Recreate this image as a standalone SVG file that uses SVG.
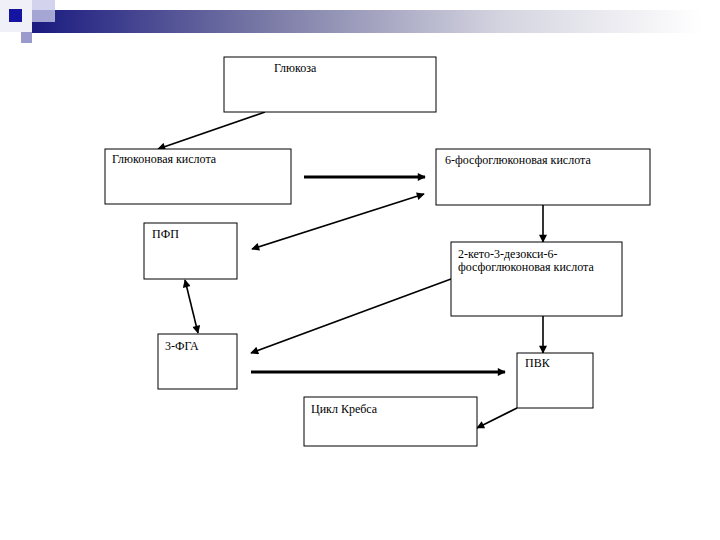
<svg xmlns="http://www.w3.org/2000/svg" width="720" height="540" viewBox="0 0 720 540">
<style>
.box{fill:#fff;stroke:#000;stroke-width:1}
.t{font-family:"Liberation Serif","Times New Roman",serif;font-size:12px;fill:#000}
.c{stroke:#000;stroke-width:1.6;fill:none}
.thick{stroke-width:2.8}
</style>
<defs>
<linearGradient id="bar" x1="0" y1="0" x2="1" y2="0">
<stop offset="0" stop-color="#1a1a80"/>
<stop offset="0.35" stop-color="#7a7aa6"/>
<stop offset="0.7" stop-color="#d4d4e0"/>
<stop offset="1" stop-color="#ffffff"/>
</linearGradient>
<marker id="ah" viewBox="0 0 10 10" refX="9" refY="5" markerWidth="9" markerHeight="8" markerUnits="userSpaceOnUse" orient="auto-start-reverse">
<path d="M0,0 L10,5 L0,10 z" fill="#000"/>
</marker>
</defs>
<rect width="720" height="540" fill="#fff"/>
<g id="header">
<rect x="0" y="0" width="32" height="32" fill="#f0f0f8"/>
<rect x="32" y="10" width="670" height="23" fill="url(#bar)"/>
<rect x="32" y="0" width="23" height="22" fill="#c8c8e8" opacity="0.8"/>
<rect x="9" y="9" width="13" height="13" fill="#1414a0"/>
<rect x="21" y="32" width="11" height="11" fill="#9a9acc"/>
</g>
<g id="connectors">
<line class="c" x1="265" y1="112" x2="158" y2="149" marker-end="url(#ah)"/>
<line class="c thick" x1="304" y1="177" x2="425" y2="177" marker-end="url(#ah)"/>
<line class="c" x1="252" y1="249" x2="424" y2="194" marker-start="url(#ah)" marker-end="url(#ah)"/>
<line class="c" x1="543" y1="205" x2="543" y2="242" marker-end="url(#ah)"/>
<line class="c" x1="185" y1="280" x2="198" y2="333" marker-start="url(#ah)" marker-end="url(#ah)"/>
<line class="c" x1="451" y1="279" x2="251" y2="353" marker-end="url(#ah)"/>
<line class="c thick" x1="251" y1="372" x2="505" y2="372" marker-end="url(#ah)"/>
<line class="c" x1="543" y1="316" x2="543" y2="353" marker-end="url(#ah)"/>
<line class="c" x1="517" y1="408" x2="477" y2="428" marker-end="url(#ah)"/>
</g>
<g id="glucose">
<rect class="box" x="224" y="57" width="212" height="55"/>
<text class="t" x="274" y="72">Глюкоза</text>
</g>
<g id="gluconic">
<rect class="box" x="105" y="149" width="186" height="55"/>
<text class="t" x="112" y="163">Глюконовая кислота</text>
</g>
<g id="pgluconic">
<rect class="box" x="436" y="149" width="214" height="56"/>
<text class="t" x="445" y="164">6-фосфоглюконовая кислота</text>
</g>
<g id="kdpg">
<rect class="box" x="451" y="242" width="171" height="74"/>
<text class="t" x="458" y="258">2-кето-3-дезокси-6-</text>
<text class="t" x="458" y="271">фосфоглюконовая кислота</text>
</g>
<g id="pfp">
<rect class="box" x="144" y="223" width="93" height="56"/>
<text class="t" x="152" y="238">ПФП</text>
</g>
<g id="pga">
<rect class="box" x="158" y="334" width="79" height="55"/>
<text class="t" x="165" y="350">3-ФГА</text>
</g>
<g id="pvk">
<rect class="box" x="517" y="353" width="76" height="55"/>
<text class="t" x="525" y="367">ПВК</text>
</g>
<g id="krebs">
<rect class="box" x="304" y="397" width="173" height="49"/>
<text class="t" x="311" y="413">Цикл Кребса</text>
</g>
</svg>
